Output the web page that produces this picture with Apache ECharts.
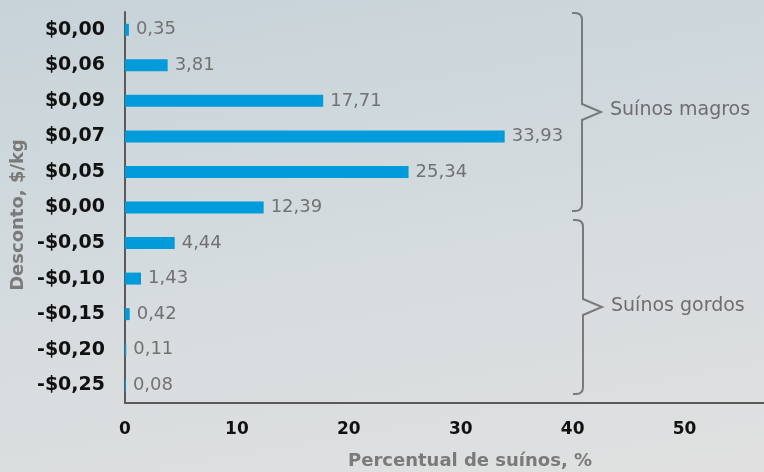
<!DOCTYPE html>
<html><head><meta charset="utf-8">
<script src="https://cdn.jsdelivr.net/npm/echarts@6/dist/echarts.min.js"></script>
<style>html,body{margin:0;padding:0;}#c{width:764px;height:472px;background:linear-gradient(170deg,#c7d3d9 0%,#d6dcdf 55%,#e0e0e0 100%);}</style>
</head><body><div id="c"></div>
<script>
const categories = ['$0,00','$0,06','$0,09','$0,07','$0,05','$0,00','-$0,05','-$0,10','-$0,15','-$0,20','-$0,25'];
const values = [0.35,3.81,17.71,33.93,25.34,12.39,4.44,1.43,0.42,0.11,0.08];
const xTicks = [0,10,20,30,40,50];
const groupLabels = ['Suínos magros','Suínos gordos'];

const chart = echarts.init(document.getElementById('c'), null, {renderer:'canvas'});
const gray = '#7a7a7a';
function brace(x, y1, y2, tipY) {
  const r = 7, w = 10, tip = 19;
  const st = {fill:null, stroke:gray, lineWidth:2};
  return [
    {type:'polyline',shape:{points:[[x-w,y1],[x-r,y1]]},style:st},
    {type:'bezierCurve',shape:{x1:x-r,y1:y1,x2:x,y2:y1+r,cpx1:x,cpy1:y1},style:st},
    {type:'polyline',shape:{points:[[x,y1+r],[x,tipY-8],[x+tip,tipY],[x,tipY+8],[x,y2-r]]},style:st},
    {type:'bezierCurve',shape:{x1:x,y1:y2-r,x2:x-r,y2:y2,cpx1:x,cpy1:y2},style:st},
    {type:'polyline',shape:{points:[[x-r,y2],[x-w,y2]]},style:st}
  ];
}
chart.setOption({
  animation:false,
  grid:{left:125,right:0,top:12,bottom:69},
  xAxis:{type:'value',min:0,max:57.1,interval:10,
    axisLine:{show:true,lineStyle:{color:'#5a5a5a',width:2}},
    axisTick:{show:false},splitLine:{show:false},
    axisLabel:{showMaxLabel:false,color:'#111',fontFamily:'DejaVu Sans',fontWeight:'bold',fontSize:17,margin:18,
      formatter:v=> xTicks.includes(v)? String(v):''}},
  yAxis:{type:'category',inverse:true,data:categories,
    axisLine:{show:true,lineStyle:{color:'#5a5a5a',width:2}},axisTick:{show:false},
    axisLabel:{color:'#111',fontFamily:'DejaVu Sans',fontWeight:'bold',fontSize:19,margin:20}},
  series:[{type:'bar',data:values,barWidth:12,itemStyle:{color:'#009bdb'},
    label:{show:true,position:'right',distance:7,color:'#727272',fontFamily:'DejaVu Sans',fontSize:18,
      formatter:p=>p.value.toFixed(2).replace('.',',')}}],
  graphic:[].concat(
    brace(582,13,211,112),
    brace(583,220,394,307),
    [
    {type:'text',left:610,top:101,style:{text:groupLabels[0],fill:'#6e6e6e',font:'19px "DejaVu Sans"'}},
    {type:'text',left:611,top:297,style:{text:groupLabels[1],fill:'#6e6e6e',font:'19px "DejaVu Sans"'}},
    {type:'text',left:348,top:452,style:{text:'Percentual de suínos, %',fill:'#7a7a7a',font:'bold 18px "DejaVu Sans"'}},
    {type:'text',x:18,y:215,rotation:Math.PI/2,style:{text:'Desconto, $/kg',fill:'#7a7a7a',font:'bold 18px "DejaVu Sans"',textAlign:'center',textVerticalAlign:'middle'}}
    ])
});
</script></body></html>
